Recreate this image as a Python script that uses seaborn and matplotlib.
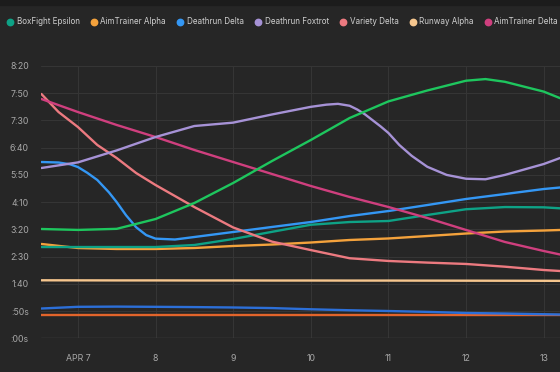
import matplotlib
matplotlib.use("Agg")
import matplotlib.pyplot as plt
import seaborn as sns
import pandas as pd
from matplotlib.lines import Line2D
from matplotlib.patches import Rectangle

# ---------------- data (seconds) ----------------
X_TICKS = [7, 8, 9, 10, 11, 12, 13]
X_TICK_LABELS = ["APR 7", "8", "9", "10", "11", "12", "13"]
Y_TICKS = [0, 50, 100, 150, 200, 250, 300, 350, 400, 450, 500]
Y_TICK_LABELS = [":00s", ":50s", "1:40", "2:30", "3:20", "4:10", "5:50", "6:40", "7:30", "7:50", "8:20"]

DAYS = [6.53, 7.0, 7.5, 8.0, 8.5, 9.0, 9.5, 10.0, 10.5, 11.0, 11.5, 12.0, 12.5, 13.0, 13.21]

boxfight_epsilon = [167.6, 167.6, 167.6, 167.6, 171.3, 182.3, 195.5, 208.5, 213.5, 215.4, 226.4, 237.0, 241.0, 240.5, 238.7]
aimtrainer_alpha = [173.2, 165.8, 164.0, 164.0, 165.8, 169.5, 172.2, 175.9, 180.5, 183.3, 187.8, 192.4, 196.1, 197.9, 198.9]

deathrun_delta_x = [6.53, 6.75, 6.9, 7.0, 7.12, 7.25, 7.4, 7.5, 7.62, 7.75, 7.88, 8.0, 8.25, 8.5, 9.0, 9.5, 10.0, 10.5, 11.0, 11.5, 12.0, 12.5, 13.0, 13.21]
deathrun_delta = [323.7, 322.8, 319.5, 314.5, 304.0, 290.7, 268.0, 250.0, 226.0, 204.0, 189.5, 183.0, 181.4, 186.0, 195.2, 204.4, 213.5, 224.5, 233.7, 244.7, 255.8, 264.9, 274.1, 276.9]

deathrun_foxtrot_x = [6.53, 7.0, 7.5, 8.0, 8.5, 9.0, 9.5, 10.0, 10.2, 10.35, 10.5, 10.6, 10.7, 10.8, 10.9, 11.0, 11.14, 11.3, 11.5, 11.75, 12.0, 12.25, 12.5, 13.0, 13.21]
deathrun_foxtrot = [312.7, 323.0, 345.0, 369.6, 389.8, 396.0, 411.0, 425.0, 429.0, 430.5, 427.0, 420.0, 411.0, 400.0, 389.0, 377.0, 355.0, 335.0, 315.0, 300.0, 293.0, 292.0, 300.0, 320.0, 331.0]

variety_delta_x = [6.53, 6.75, 7.0, 7.25, 7.5, 7.75, 8.0, 8.5, 9.0, 9.5, 10.0, 10.5, 11.0, 11.5, 12.0, 12.5, 13.0, 13.21]
variety_delta = [448.6, 415.6, 388.0, 355.0, 331.0, 303.5, 281.5, 241.0, 203.5, 177.5, 162.0, 147.0, 142.0, 139.0, 136.5, 131.5, 125.4, 123.6]

runway_alpha = [106.5, 106.4, 106.3, 106.3, 106.2, 106.2, 106.1, 106.1, 106.0, 106.0, 105.9, 105.8, 105.7, 105.6, 105.5]
aimtrainer_delta = [439.4, 415.5, 391.7, 369.6, 345.8, 323.7, 301.7, 279.7, 259.5, 241.1, 220.9, 198.9, 176.9, 160.3, 153.9]

green_x = [6.53, 7.0, 7.5, 8.0, 8.5, 9.0, 9.5, 10.0, 10.5, 11.0, 11.5, 12.0, 12.25, 12.5, 13.0, 13.21]
green_series = [200.7, 199.0, 201.0, 219.0, 248.4, 285.2, 325.5, 364.1, 404.5, 435.0, 455.0, 473.0, 476.0, 471.0, 453.0, 441.0]
dark_blue_series = [54.7, 57.8, 58.2, 57.8, 57.3, 56.6, 55.5, 53.3, 51.5, 50.1, 48.5, 46.5, 45.5, 44.2, 43.7]
dark_orange_series = [42.0] * 15

LEGEND_NAMES = ["BoxFight Epsilon", "AimTrainer Alpha", "Deathrun Delta", "Deathrun Foxtrot",
                "Variety Delta", "Runway Alpha", "AimTrainer Delta"]

# ---------------- build long table ----------------
series = [
    ("BoxFight Epsilon", DAYS, boxfight_epsilon, "#0ea286"),
    ("AimTrainer Alpha", DAYS, aimtrainer_alpha, "#f4a23c"),
    ("Deathrun Delta", deathrun_delta_x, deathrun_delta, "#3497f4"),
    ("Deathrun Foxtrot", deathrun_foxtrot_x, deathrun_foxtrot, "#a692d6"),
    ("Variety Delta", variety_delta_x, variety_delta, "#ec7a80"),
    ("Runway Alpha", DAYS, runway_alpha, "#f6c68e"),
    ("AimTrainer Delta", DAYS, aimtrainer_delta, "#cf3f7e"),
    ("green", green_x, green_series, "#1ec65e"),
    ("dark blue", DAYS, dark_blue_series, "#2c6fd8"),
    ("dark orange", DAYS, dark_orange_series, "#e2642b"),
]
rows = []
for name, xs, ys, _ in series:
    for x, y in zip(xs, ys):
        rows.append({"day": x, "seconds": y, "series": name})
df = pd.DataFrame(rows)
palette = {name: c for name, _, _, c in series}
order = ["dark orange", "dark blue", "Runway Alpha", "AimTrainer Alpha", "BoxFight Epsilon",
         "Deathrun Delta", "Variety Delta", "AimTrainer Delta", "Deathrun Foxtrot", "green"]

# ---------------- style ----------------
BG = "#262626"
sns.set_theme(style="dark", rc={
    "figure.facecolor": BG, "axes.facecolor": BG, "savefig.facecolor": BG,
    "axes.edgecolor": BG, "grid.color": "#353535", "text.color": "#c8c8c8",
    "xtick.color": "#a8a8a8", "ytick.color": "#a8a8a8",
})
plt.rcParams["font.family"] = ["Inter", "DejaVu Sans"]

fig = plt.figure(figsize=(5.6, 3.72), dpi=100)
fig.patches.append(Rectangle((0, 1 - 5 / 372), 1, 5 / 372, transform=fig.transFigure,
                             color="#1c1c1c", zorder=0))
ax = fig.add_axes([41.4 / 560, (372 - 338.3) / 372, (560 - 41.4) / 560, 272.3 / 372])

sns.lineplot(data=df, x="day", y="seconds", hue="series", hue_order=order, palette=palette,
             estimator=None, sort=True, legend=False, linewidth=1.7, ax=ax)
for ln in ax.get_lines():
    ln.set_solid_joinstyle("round")

ax.set_xlim(6.53, 13.21)
ax.set_ylim(0, 500)
ax.set_xticks(X_TICKS)
ax.set_xticklabels(X_TICK_LABELS)
ax.set_yticks(Y_TICKS)
ax.set_yticklabels(Y_TICK_LABELS)
ax.set_xlabel("")
ax.set_ylabel("")
ax.grid(True, color="#353535", linewidth=0.8)
ax.axhline(0, color="#474747", linewidth=1.0, zorder=0.6)
ax.tick_params(axis="both", length=0, labelsize=6.3)
ax.tick_params(axis="y", pad=9)
ax.tick_params(axis="x", pad=11)
for s in ax.spines.values():
    s.set_visible(False)

handles = [Line2D([], [], marker="o", linestyle="", markersize=4.6, color=palette[n]) for n in LEGEND_NAMES]
fig.legend(handles, LEGEND_NAMES, loc="center left", bbox_to_anchor=(7.0 / 560, 1 - 22 / 372),
           ncol=7, frameon=False, fontsize=5.8, handletextpad=0.4, columnspacing=1.38,
           handlelength=0.8, borderpad=0, borderaxespad=0, labelcolor="#cfcfcf")

fig.savefig("out.png", dpi=100)
